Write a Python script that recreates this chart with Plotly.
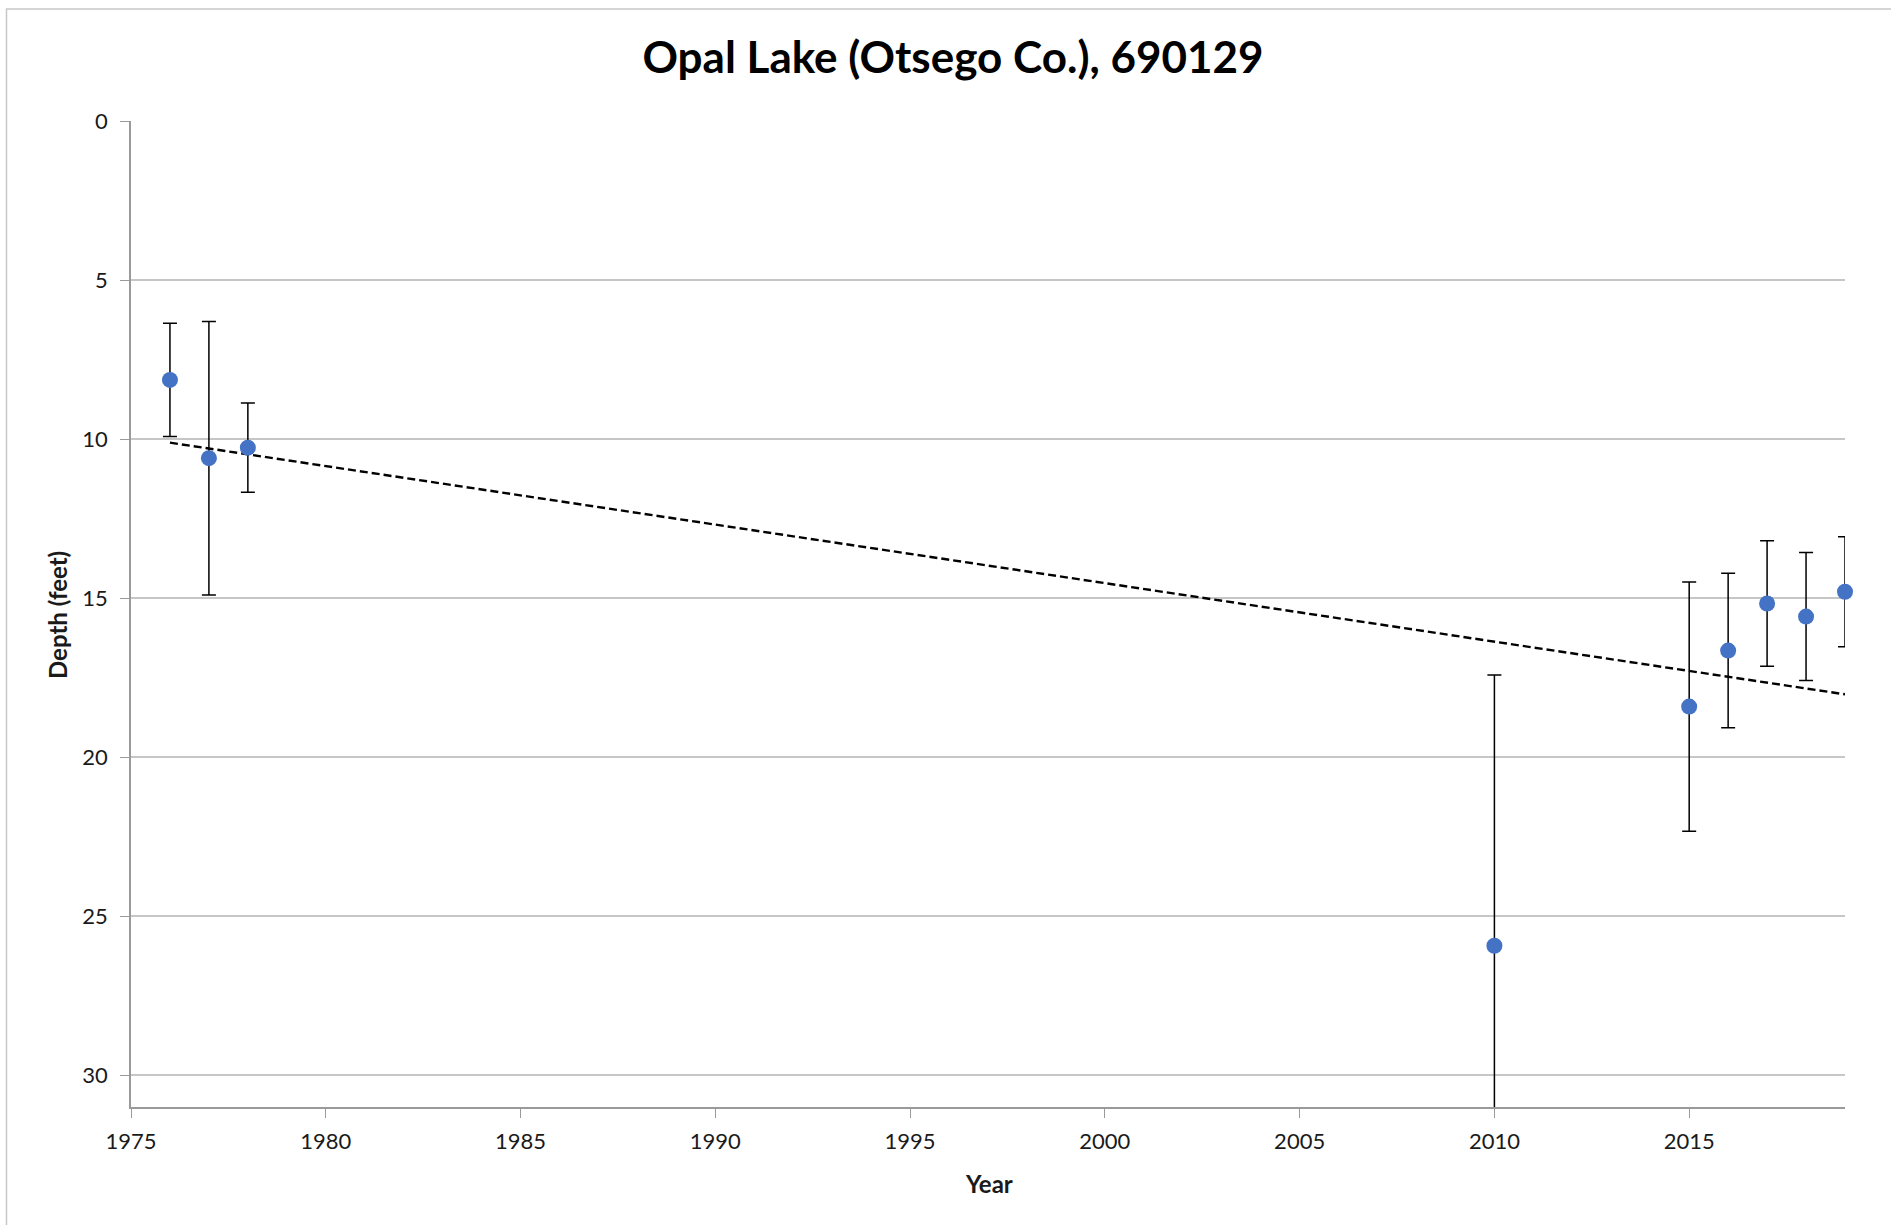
import numpy as np
import plotly.graph_objects as go

years = [1976, 1977, 1978, 2010, 2015, 2016, 2017, 2018, 2019]
depth = [8.14, 10.6, 10.27, 25.93, 18.41, 16.65, 15.17, 15.58, 14.8]
err = [1.78, 4.3, 1.4, 8.51, 3.92, 2.43, 1.97, 2.01, 1.73]

x_ticks = [1975, 1980, 1985, 1990, 1995, 2000, 2005, 2010, 2015]
y_ticks = [0, 5, 10, 15, 20, 25, 30]

X_MIN, X_MAX = 1975, 2019
Y_MAX = 31

slope, intercept = np.polyfit(years, depth, 1)
trend_x = [min(years), max(years)]
trend_y = [slope * v + intercept for v in trend_x]

FONT = "Lato"
TXT = "#1a1a1a"

# split: points whose error bar runs past the axis range are clipped
inside = [i for i in range(len(years)) if depth[i] + err[i] <= Y_MAX]
outside = [i for i in range(len(years)) if depth[i] + err[i] > Y_MAX]

fig = go.Figure()
fig.add_trace(go.Scatter(
    x=trend_x, y=trend_y, mode="lines",
    line=dict(color="black", width=2.4, dash="8px,4px"),
    hoverinfo="skip", showlegend=False,
))
fig.add_trace(go.Scatter(
    x=[years[i] for i in outside], y=[depth[i] for i in outside], mode="markers",
    marker=dict(color="#4472C4", size=16),
    error_y=dict(type="data", array=[err[i] for i in outside], visible=True,
                 color="black", thickness=1.5, width=7),
    cliponaxis=True, showlegend=False,
))
fig.add_trace(go.Scatter(
    x=[years[i] for i in inside], y=[depth[i] for i in inside], mode="markers",
    marker=dict(color="#4472C4", size=16),
    error_y=dict(type="data", array=[err[i] for i in inside], visible=True,
                 color="black", thickness=1.5, width=7),
    cliponaxis=False, showlegend=False,
))

fig.update_layout(
    width=1891, height=1225,
    margin=dict(l=131, r=46, t=121, b=118, autoexpand=False),
    paper_bgcolor="white", plot_bgcolor="white",
    title=dict(text="<b>Opal Lake (Otsego Co.), 690129</b>",
               x=953 / 1891, xanchor="center", y=1 - 58 / 1225, yanchor="middle",
               font=dict(family=FONT, size=44, color="black")),
    font=dict(family=FONT, color=TXT),
    xaxis=dict(
        range=[X_MIN, X_MAX], tickmode="array", tickvals=x_ticks,
        showgrid=False, zeroline=False, automargin=False,
        showline=True, linecolor="#9a9a9a", linewidth=1.5,
        ticks="outside", ticklen=9, tickcolor="#9a9a9a", tickwidth=1,
        ticklabelstandoff=5,
        tickfont=dict(size=22, family=FONT, color=TXT),
    ),
    yaxis=dict(
        range=[Y_MAX, 0], tickmode="array", tickvals=y_ticks,
        showgrid=True, gridcolor="#c6c6c6", gridwidth=1.5, zeroline=False,
        automargin=False,
        showline=True, linecolor="#9a9a9a", linewidth=1.5,
        ticks="outside", ticklen=9, tickcolor="#9a9a9a", tickwidth=1,
        ticklabelstandoff=8,
        tickfont=dict(size=22, family=FONT, color=TXT),
    ),
    annotations=[
        dict(text="<b>Year</b>", xref="paper", yref="paper",
             x=(989 - 131) / 1714, y=(1107 - 1183) / 986,
             xanchor="center", yanchor="middle", showarrow=False,
             font=dict(size=24, family=FONT, color=TXT)),
        dict(text="<b>Depth (feet)</b>", xref="paper", yref="paper",
             x=(57 - 131) / 1714, y=(1107 - 615) / 986, textangle=-90,
             xanchor="center", yanchor="middle", showarrow=False,
             font=dict(size=24, family=FONT, color=TXT)),
    ],
    shapes=[dict(type="rect", xref="paper", yref="paper",
                 x0=(6.5 - 131) / 1714, x1=(1960 - 131) / 1714,
                 y0=(1107 - 1300) / 986, y1=(1107 - 9) / 986,
                 line=dict(color="#c8c8c8", width=1.5), layer="below")],
)

fig.write_html("out.html", config={"displayModeBar": False},
               post_script="document.body.style.margin='0px';document.body.style.overflow='hidden';")
